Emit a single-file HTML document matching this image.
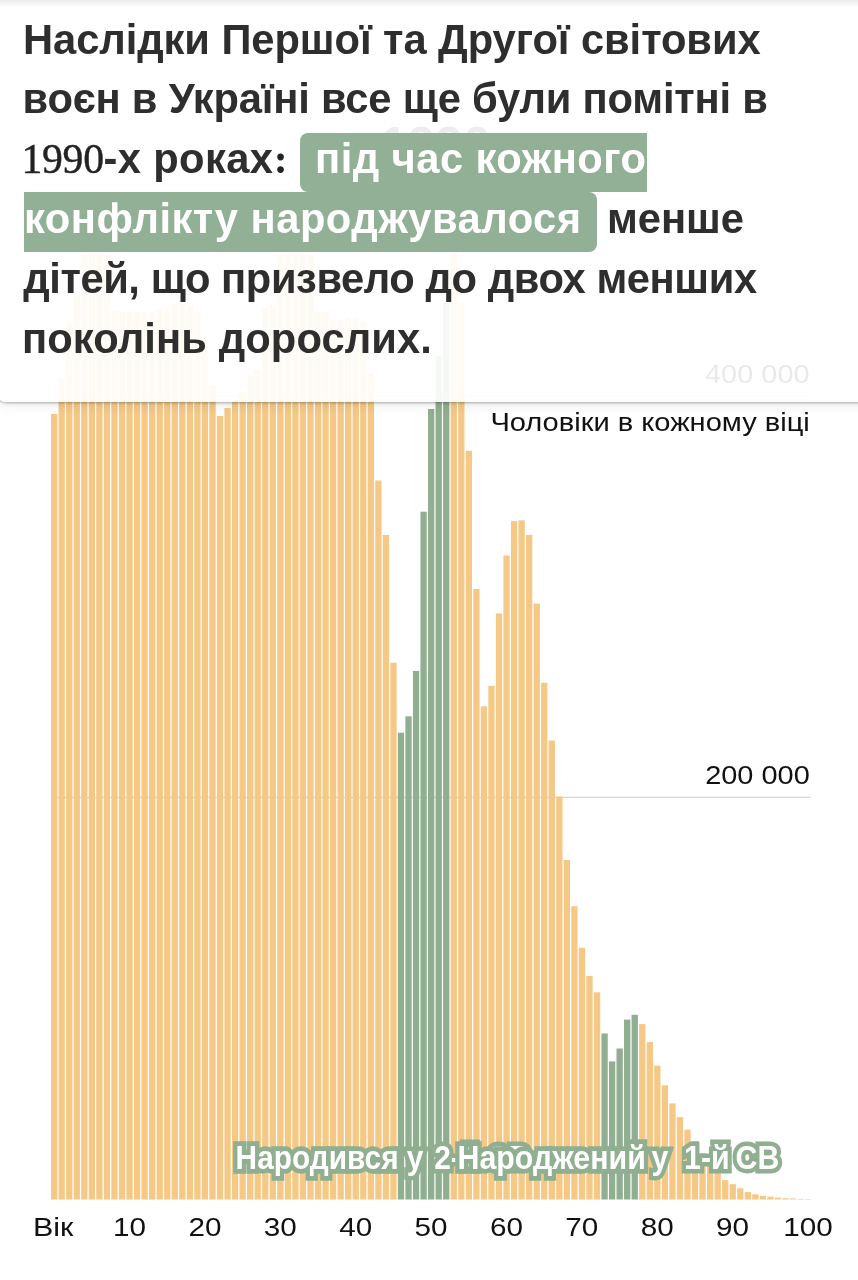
<!DOCTYPE html>
<html lang="uk"><head><meta charset="utf-8"><title>Наслідки світових воєн</title>
<style>
html,body{margin:0;padding:0;background:#fff;}
body{width:858px;height:1280px;position:relative;overflow:hidden;font-family:"Liberation Sans",sans-serif;}
svg{position:absolute;left:0;top:0;display:block;}
svg text{font-family:"Liberation Sans",sans-serif;}
.ax text{font-size:26.5px;fill:#111;}
.lab text{font-size:32.9px;font-weight:bold;fill:#fff;stroke:#90AE90;stroke-width:9px;stroke-linejoin:miter;paint-order:stroke fill;vector-effect:non-scaling-stroke;}
.card{position:absolute;left:-3px;top:-10px;width:885px;height:412px;box-sizing:border-box;background:rgba(255,255,255,0.91);border-radius:0 0 9px 9px;box-shadow:0 1px 3px rgba(0,0,0,0.3),0 4px 12px rgba(0,0,0,0.07);}
.topfade{position:absolute;left:0;right:0;top:0;height:7px;background:linear-gradient(#ebebeb,rgba(255,255,255,0));}
.txt{position:absolute;left:0;top:0;margin:0;font-size:41.7px;line-height:60px;font-weight:bold;color:#2e2e2e;white-space:nowrap;}
.s{position:absolute;display:block;height:60px;}
.m{font-family:"Liberation Serif",serif;font-weight:normal;color:#222;}
.w{color:#fff;}
.m{-webkit-text-stroke:0.45px #2a2a2a;}
.mb{font-weight:bold;-webkit-text-stroke:0;}
.hl{position:absolute;background:#91B095;}
</style></head><body>
<svg width="858" height="1280" viewBox="0 0 858 1280">
<text x="435.5" y="162" text-anchor="middle" font-size="50" font-weight="bold" fill="#3a3a3a">1990</text>
<line x1="51" x2="810.5" y1="396" y2="396" stroke="#d6d6d6" stroke-width="1.2"/>
<line x1="51" x2="810.5" y1="797.3" y2="797.3" stroke="#d6d6d6" stroke-width="1.2"/>
<g><rect x="51.00" y="414.0" width="6.3" height="785.5" fill="#F5C886"/><rect x="58.54" y="379.0" width="6.3" height="820.5" fill="#F5C886"/><rect x="66.08" y="322.0" width="6.3" height="877.5" fill="#F5C886"/><rect x="73.62" y="295.0" width="6.3" height="904.5" fill="#F5C886"/><rect x="81.16" y="255.0" width="6.3" height="944.5" fill="#F5C886"/><rect x="88.70" y="254.0" width="6.3" height="945.5" fill="#F5C886"/><rect x="96.24" y="254.0" width="6.3" height="945.5" fill="#F5C886"/><rect x="103.78" y="255.0" width="6.3" height="944.5" fill="#F5C886"/><rect x="111.32" y="311.0" width="6.3" height="888.5" fill="#F5C886"/><rect x="118.86" y="312.0" width="6.3" height="887.5" fill="#F5C886"/><rect x="126.40" y="311.0" width="6.3" height="888.5" fill="#F5C886"/><rect x="133.94" y="312.0" width="6.3" height="887.5" fill="#F5C886"/><rect x="141.48" y="312.0" width="6.3" height="887.5" fill="#F5C886"/><rect x="149.02" y="311.0" width="6.3" height="888.5" fill="#F5C886"/><rect x="156.56" y="309.0" width="6.3" height="890.5" fill="#F5C886"/><rect x="164.10" y="308.0" width="6.3" height="891.5" fill="#F5C886"/><rect x="171.64" y="304.0" width="6.3" height="895.5" fill="#F5C886"/><rect x="179.18" y="304.0" width="6.3" height="895.5" fill="#F5C886"/><rect x="186.72" y="306.0" width="6.3" height="893.5" fill="#F5C886"/><rect x="194.26" y="312.0" width="6.3" height="887.5" fill="#F5C886"/><rect x="201.80" y="340.0" width="6.3" height="859.5" fill="#F5C886"/><rect x="209.34" y="385.0" width="6.3" height="814.5" fill="#F5C886"/><rect x="216.88" y="416.0" width="6.3" height="783.5" fill="#F5C886"/><rect x="224.42" y="408.0" width="6.3" height="791.5" fill="#F5C886"/><rect x="231.96" y="400.0" width="6.3" height="799.5" fill="#F5C886"/><rect x="239.50" y="392.0" width="6.3" height="807.5" fill="#F5C886"/><rect x="247.04" y="375.0" width="6.3" height="824.5" fill="#F5C886"/><rect x="254.58" y="370.0" width="6.3" height="829.5" fill="#F5C886"/><rect x="262.12" y="308.0" width="6.3" height="891.5" fill="#F5C886"/><rect x="269.66" y="305.0" width="6.3" height="894.5" fill="#F5C886"/><rect x="277.20" y="255.0" width="6.3" height="944.5" fill="#F5C886"/><rect x="284.74" y="254.0" width="6.3" height="945.5" fill="#F5C886"/><rect x="292.28" y="254.0" width="6.3" height="945.5" fill="#F5C886"/><rect x="299.82" y="254.0" width="6.3" height="945.5" fill="#F5C886"/><rect x="307.36" y="255.0" width="6.3" height="944.5" fill="#F5C886"/><rect x="314.90" y="312.0" width="6.3" height="887.5" fill="#F5C886"/><rect x="322.44" y="312.0" width="6.3" height="887.5" fill="#F5C886"/><rect x="329.98" y="320.0" width="6.3" height="879.5" fill="#F5C886"/><rect x="337.52" y="320.0" width="6.3" height="879.5" fill="#F5C886"/><rect x="345.06" y="318.0" width="6.3" height="881.5" fill="#F5C886"/><rect x="352.60" y="318.0" width="6.3" height="881.5" fill="#F5C886"/><rect x="360.14" y="322.0" width="6.3" height="877.5" fill="#F5C886"/><rect x="367.68" y="373.0" width="6.3" height="826.5" fill="#F5C886"/><rect x="375.22" y="480.5" width="6.3" height="719.0" fill="#F5C886"/><rect x="382.76" y="535.0" width="6.3" height="664.5" fill="#F5C886"/><rect x="390.30" y="662.7" width="6.3" height="536.8" fill="#F5C886"/><rect x="397.84" y="732.7" width="6.3" height="466.8" fill="#90AE90"/><rect x="405.38" y="716.3" width="6.3" height="483.2" fill="#90AE90"/><rect x="412.92" y="670.9" width="6.3" height="528.6" fill="#90AE90"/><rect x="420.46" y="511.7" width="6.3" height="687.8" fill="#90AE90"/><rect x="428.00" y="409.0" width="6.3" height="790.5" fill="#90AE90"/><rect x="435.54" y="356.0" width="6.3" height="843.5" fill="#90AE90"/><rect x="443.08" y="303.0" width="6.3" height="896.5" fill="#90AE90"/><rect x="450.62" y="150.0" width="6.3" height="1049.5" fill="#F5C886"/><rect x="458.16" y="303.0" width="6.3" height="896.5" fill="#F5C886"/><rect x="465.70" y="450.8" width="6.3" height="748.7" fill="#F5C886"/><rect x="473.24" y="589.0" width="6.3" height="610.5" fill="#F5C886"/><rect x="480.78" y="706.3" width="6.3" height="493.2" fill="#F5C886"/><rect x="488.32" y="685.8" width="6.3" height="513.7" fill="#F5C886"/><rect x="495.86" y="613.4" width="6.3" height="586.1" fill="#F5C886"/><rect x="503.40" y="555.5" width="6.3" height="644.0" fill="#F5C886"/><rect x="510.94" y="521.1" width="6.3" height="678.4" fill="#F5C886"/><rect x="518.48" y="520.4" width="6.3" height="679.1" fill="#F5C886"/><rect x="526.02" y="534.9" width="6.3" height="664.6" fill="#F5C886"/><rect x="533.56" y="603.6" width="6.3" height="595.9" fill="#F5C886"/><rect x="541.10" y="682.8" width="6.3" height="516.7" fill="#F5C886"/><rect x="548.64" y="740.5" width="6.3" height="459.0" fill="#F5C886"/><rect x="556.18" y="796.5" width="6.3" height="403.0" fill="#F5C886"/><rect x="563.72" y="860.0" width="6.3" height="339.5" fill="#F5C886"/><rect x="571.26" y="906.2" width="6.3" height="293.3" fill="#F5C886"/><rect x="578.80" y="947.7" width="6.3" height="251.8" fill="#F5C886"/><rect x="586.34" y="975.9" width="6.3" height="223.6" fill="#F5C886"/><rect x="593.88" y="992.3" width="6.3" height="207.2" fill="#F5C886"/><rect x="601.42" y="1033.5" width="6.3" height="166.0" fill="#90AE90"/><rect x="608.96" y="1061.4" width="6.3" height="138.1" fill="#90AE90"/><rect x="616.50" y="1048.5" width="6.3" height="151.0" fill="#90AE90"/><rect x="624.04" y="1019.6" width="6.3" height="179.9" fill="#90AE90"/><rect x="631.58" y="1014.8" width="6.3" height="184.7" fill="#90AE90"/><rect x="639.12" y="1024.1" width="6.3" height="175.4" fill="#F5C886"/><rect x="646.66" y="1042.1" width="6.3" height="157.4" fill="#F5C886"/><rect x="654.20" y="1065.6" width="6.3" height="133.9" fill="#F5C886"/><rect x="661.74" y="1085.3" width="6.3" height="114.2" fill="#F5C886"/><rect x="669.28" y="1103.4" width="6.3" height="96.1" fill="#F5C886"/><rect x="676.82" y="1117.1" width="6.3" height="82.4" fill="#F5C886"/><rect x="684.36" y="1129.7" width="6.3" height="69.8" fill="#F5C886"/><rect x="691.90" y="1141.0" width="6.3" height="58.5" fill="#F5C886"/><rect x="699.44" y="1153.0" width="6.3" height="46.5" fill="#F5C886"/><rect x="706.98" y="1165.8" width="6.3" height="33.7" fill="#F5C886"/><rect x="714.52" y="1173.1" width="6.3" height="26.4" fill="#F5C886"/><rect x="722.06" y="1180.1" width="6.3" height="19.4" fill="#F5C886"/><rect x="729.60" y="1184.2" width="6.3" height="15.3" fill="#F5C886"/><rect x="737.14" y="1188.3" width="6.3" height="11.2" fill="#F5C886"/><rect x="744.68" y="1192.1" width="6.3" height="7.4" fill="#F5C886"/><rect x="752.22" y="1194.3" width="6.3" height="5.2" fill="#F5C886"/><rect x="759.76" y="1195.8" width="6.3" height="3.7" fill="#F5C886"/><rect x="767.30" y="1196.7" width="6.3" height="2.8" fill="#F5C886"/><rect x="774.84" y="1197.6" width="6.3" height="1.9" fill="#F5C886"/><rect x="782.38" y="1198.2" width="6.3" height="1.3" fill="#F5C886"/><rect x="789.92" y="1198.5" width="6.3" height="1.0" fill="#F5C886"/><rect x="797.46" y="1198.8" width="6.3" height="0.7" fill="#F5C886"/><rect x="805.00" y="1199.0" width="6.3" height="0.5" fill="#F5C886"/></g>
<g class="ax">
<text transform="translate(809.6,382.5) scale(1.093,1)" text-anchor="end">400 000</text>
<text transform="translate(809.8,783.7) scale(1.093,1)" text-anchor="end">200 000</text>
<text transform="translate(809.8,431.0) scale(1.098,1)" text-anchor="end">Чоловіки в кожному віці</text>
<text transform="translate(32.9,1236.0) scale(1.15,1)" text-anchor="start">Вік</text>
<text transform="translate(129.5,1236.0) scale(1.12,1)" text-anchor="middle">10</text><text transform="translate(204.9,1236.0) scale(1.12,1)" text-anchor="middle">20</text><text transform="translate(280.2,1236.0) scale(1.12,1)" text-anchor="middle">30</text><text transform="translate(355.7,1236.0) scale(1.12,1)" text-anchor="middle">40</text><text transform="translate(431.1,1236.0) scale(1.12,1)" text-anchor="middle">50</text><text transform="translate(506.4,1236.0) scale(1.12,1)" text-anchor="middle">60</text><text transform="translate(581.8,1236.0) scale(1.12,1)" text-anchor="middle">70</text><text transform="translate(657.2,1236.0) scale(1.12,1)" text-anchor="middle">80</text><text transform="translate(732.6,1236.0) scale(1.12,1)" text-anchor="middle">90</text><text transform="translate(808.0,1236.0) scale(1.12,1)" text-anchor="middle">100</text>
</g>
<g class="lab">
<text transform="translate(235.6,1169.0) scale(0.907,1)" text-anchor="start">Народився <tspan x="188.7">у </tspan><tspan x="218.9">2-й СВ</tspan></text>
<text transform="translate(457.6,1169.0) scale(0.922,1)" text-anchor="start">Народжений <tspan x="210.2">у </tspan><tspan x="245.6">1-й </tspan><tspan x="301.5">СВ</tspan></text>
</g>
</svg>
<div class="card"></div>
<div class="topfade"></div>
<div class="hl" style="left:299.6px;top:132.5px;width:347.4px;height:59.5px;border-radius:8px 0 0 8px"></div>
<div class="hl" style="left:23.8px;top:192px;width:573.2px;height:59.5px;border-radius:0 8px 8px 0"></div>
<p class="txt">
<span class="s " style="left:23px;top:9.66px;letter-spacing:-0.07px">Наслідки Першої та Другої світових</span>
<span class="s " style="left:22.5px;top:69.46px;letter-spacing:-0.2px">воєн в Україні все ще були помітні в</span>
<span class="s m" style="left:21.5px;top:129.26px;letter-spacing:-0.3px">1990</span><span class="s " style="left:103.6px;top:129.26px;letter-spacing:0.35px">-х роках</span><span class="s m mb" style="left:273.8px;top:129.26px;letter-spacing:0px">:</span>
<span class="s w" style="left:315px;top:129.26px;letter-spacing:0.45px">під час кожного</span>
<span class="s w" style="left:24px;top:189.06px;letter-spacing:0.5px">конфлікту народжувалося</span>
<span class="s " style="left:607px;top:189.06px;letter-spacing:-0.05px">менше</span>
<span class="s " style="left:23.2px;top:248.86px;letter-spacing:-0.42px">дітей, що призвело до двох менших</span>
<span class="s " style="left:22px;top:308.66px;letter-spacing:0.1px">поколінь дорослих.</span>
</p>
</body></html>
